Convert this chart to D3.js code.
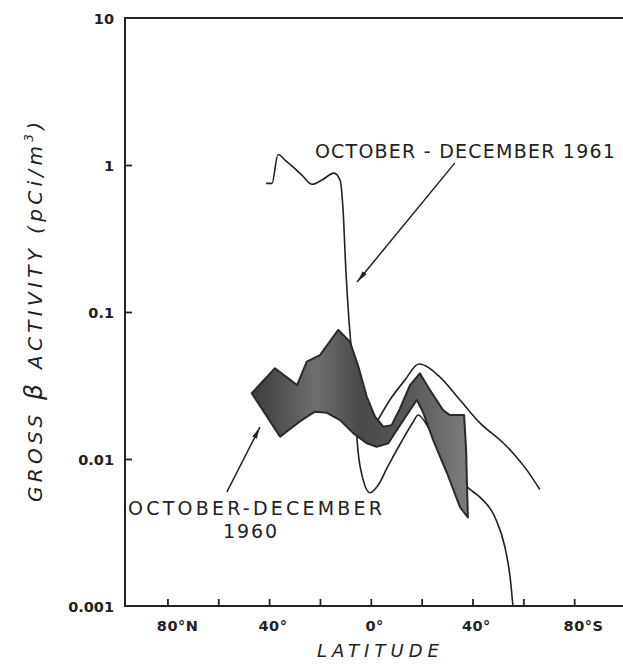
<!DOCTYPE html>
<html>
<head>
<meta charset="utf-8">
<script src="https://cdn.jsdelivr.net/npm/d3@7/dist/d3.min.js"></script>
<style>
  body { margin: 0; background: #ffffff; }
  svg { display: block; }
  text { fill: #222; }
</style>
</head>
<body>
<svg id="chart" width="623" height="665"></svg>
<script>
// ---------------- DATA ----------------
// October-December 1961 curve (latitude: negative = north, positive = south)
const line1961Lat = [-41.2, -38.9, -36.5, -33.5, -30.6, -27.0, -23.1, -19.2, -14.5, -12.1, -10.9, -9.8, -8.6, -7.4, -6.2, -5.4, -3.5, -0.3, 2.8, 6.4, 11.5, 16.6, 18.6, 23.3, 31.1, 38.2, 42.9, 48.9, 52.8, 54.8, 55.9];
const line1961Val = [0.75, 0.75, 1.18, 1.07, 0.97, 0.85, 0.74, 0.79, 0.88, 0.79, 0.49, 0.19, 0.088, 0.049, 0.025, 0.0135, 0.0078, 0.0059, 0.0066, 0.0087, 0.0126, 0.0178, 0.0199, 0.0157, 0.0098, 0.0064, 0.0055, 0.0040, 0.0025, 0.00157, 0.001];

// Upper thin curve (continuation to the south)
const upperLat = [2.4, 7.5, 13.4, 18.9, 27.2, 35.1, 42.9, 52.0, 55.9, 61.4, 66.5];
const upperVal = [0.0179, 0.0252, 0.0344, 0.0443, 0.0361, 0.0252, 0.0176, 0.0129, 0.0110, 0.0084, 0.0062];

// October-December 1960 shaded band: upper edge (left to right, ending at the southern tip)
const band1960UpperLat = [-46.85, -37.7, -29.0, -25.2, -20.0, -12.8, -8.2, -4.9, -1.6, 1.65, 4.9, 8.2, 11.5, 15.4, 19.3, 23.3, 28.4, 31.1, 36.7, 37.5, 37.8, 38.2];
const band1960UpperVal = [0.0280, 0.0414, 0.0318, 0.0459, 0.0509, 0.0755, 0.0628, 0.0425, 0.0266, 0.0194, 0.0166, 0.0170, 0.0221, 0.0318, 0.0383, 0.0294, 0.0215, 0.0199, 0.0199, 0.0115, 0.0070, 0.0040];
// lower edge (left to right)
const band1960LowerLat = [-35.7, -27.9, -22.0, -17.3, -12.1, -6.9, -1.6, 2.3, 6.9, 11.5, 15.4, 18.1, 20.5, 24.5, 30.0, 35.1];
const band1960LowerVal = [0.0142, 0.0180, 0.0210, 0.0206, 0.0184, 0.0150, 0.0128, 0.0121, 0.0128, 0.0170, 0.0215, 0.0252, 0.0209, 0.0135, 0.0080, 0.0047];

// Axes
const yTickValues = [10, 1, 0.1, 0.01, 0.001];
const yTickLabels = ["10", "1", "0.1", "0.01", "0.001"];
const xTickValues = [-80, -60, -40, -20, 0, 20, 40, 60, 80];
const xLabelValues = [-80, -40, 0, 40, 80];
const xLabelNumbers = ["80", "40", "0", "40", "80"];
const xLabelSuffix = ["°N", "°", "°", "°", "°S"];

const label1961 = "OCTOBER - DECEMBER 1961";
const label1960a = "OCTOBER-DECEMBER";
const label1960b = "1960";
const xTitle = "LATITUDE";

// ---------------- CHART ----------------
const svg = d3.select("#chart");
const plotLeft = 125, plotRight = 625, plotTop = 18, plotBottom = 606;

const x = d3.scaleLinear().domain([-96.7, 100]).range([plotLeft, plotRight]);
const y = d3.scaleLog().domain([0.001, 10]).range([plotBottom, plotTop]);

const ink = "#222";
const fontMain = "'DejaVu Sans', 'Liberation Sans', sans-serif";

// Lines (drawn under the band)
const lineGen = d3.line().x(d => x(d[0])).y(d => y(d[1])).curve(d3.curveMonotoneX);

svg.append("path")
  .datum(line1961Lat.map((v, i) => [v, line1961Val[i]]))
  .attr("d", lineGen)
  .attr("fill", "none").attr("stroke", ink).attr("stroke-width", 1.6);

svg.append("path")
  .datum(upperLat.map((v, i) => [v, upperVal[i]]))
  .attr("d", lineGen)
  .attr("fill", "none").attr("stroke", ink).attr("stroke-width", 1.6);

// Band polygon
const bandPts = band1960UpperLat.map((v, i) => [v, band1960UpperVal[i]])
  .concat(band1960LowerLat.map((v, i) => [v, band1960LowerVal[i]]).reverse());
const defs = svg.append("defs");
const grad = defs.append("linearGradient").attr("id", "bandGrad")
  .attr("x1", "0").attr("y1", "0").attr("x2", "1").attr("y2", "0");
grad.append("stop").attr("offset", "0%").attr("stop-color", "#3c3c3c");
grad.append("stop").attr("offset", "30%").attr("stop-color", "#6e6e6e");
grad.append("stop").attr("offset", "50%").attr("stop-color", "#4a4a4a");
grad.append("stop").attr("offset", "75%").attr("stop-color", "#5a5a5a");
grad.append("stop").attr("offset", "100%").attr("stop-color", "#7e7e7e");

svg.append("path")
  .datum(bandPts)
  .attr("d", d3.line().x(d => x(d[0])).y(d => y(d[1])).curve(d3.curveLinearClosed))
  .attr("fill", "url(#bandGrad)")
  .attr("stroke", "#2a2a2a").attr("stroke-width", 2).attr("stroke-linejoin", "round");

// Frame
svg.append("rect")
  .attr("x", plotLeft).attr("y", plotTop)
  .attr("width", plotRight - plotLeft).attr("height", plotBottom - plotTop)
  .attr("fill", "none").attr("stroke", ink).attr("stroke-width", 2);

// X axis ticks (inward)
const gx = svg.append("g").attr("transform", `translate(0,${plotBottom})`)
  .call(d3.axisBottom(x).tickValues(xTickValues).tickSizeInner(-7).tickSizeOuter(0).tickFormat(""));
gx.select(".domain").remove();
gx.selectAll(".tick line").attr("stroke", ink).attr("stroke-width", 1.8);

// Y axis ticks (inward)
const gy = svg.append("g").attr("transform", `translate(${plotLeft},0)`)
  .call(d3.axisLeft(y).tickValues(yTickValues.slice(1, 4)).tickSizeInner(-7).tickSizeOuter(0).tickFormat(""));
gy.select(".domain").remove();
gy.selectAll(".tick line").attr("stroke", ink).attr("stroke-width", 1.8);

// Y tick labels
svg.append("g").selectAll("text")
  .data(yTickValues)
  .join("text")
  .attr("x", plotLeft - 11)
  .attr("y", d => y(d) + 5.5)
  .attr("text-anchor", "end")
  .attr("font-family", fontMain)
  .attr("font-weight", "bold")
  .attr("font-size", 14.5)
  .text((d, i) => yTickLabels[i]);

// X tick labels: numeric part centred on tick
const xl = svg.append("g");
xLabelValues.forEach((v, i) => {
  const t = xl.append("text")
    .attr("y", plotBottom + 25)
    .attr("font-family", fontMain)
    .attr("font-weight", "bold")
    .attr("font-size", 14.5)
    .attr("letter-spacing", 0.5);
  const num = t.append("tspan").text(xLabelNumbers[i]);
  t.append("tspan").text(xLabelSuffix[i]);
  const w = num.node().getComputedTextLength();
  t.attr("x", x(v) - w / 2);
});

// X title
svg.append("text")
  .attr("x", x(2.8)).attr("y", plotBottom + 51)
  .attr("text-anchor", "middle")
  .attr("font-family", fontMain)
  .attr("font-style", "italic")
  .attr("font-size", 18)
  .attr("textLength", 122).attr("lengthAdjust", "spacing")
  .text(xTitle);

// Y title
const yt = svg.append("text")
  .attr("transform", `translate(42,${y(0.1)}) rotate(-90)`)
  .attr("text-anchor", "middle")
  .attr("font-family", fontMain)
  .attr("font-style", "italic")
  .attr("font-size", 20)
  .attr("textLength", 380).attr("lengthAdjust", "spacing");
yt.append("tspan").text("GROSS ");
yt.append("tspan").attr("font-size", 25).text("β");
yt.append("tspan").text(" ACTIVITY (pCi/m");
yt.append("tspan").attr("font-size", 12).attr("dy", -9).text("3");
yt.append("tspan").attr("dy", 9).text(")");

// Arrow marker
defs.append("marker").attr("id", "arrow")
  .attr("viewBox", "0 0 12 6").attr("refX", 12).attr("refY", 3)
  .attr("markerWidth", 12).attr("markerHeight", 6)
  .attr("markerUnits", "userSpaceOnUse")
  .attr("orient", "auto")
  .append("path").attr("d", "M0,0.5 L12,3 L0,5.5 Z").attr("fill", ink);

// Annotation 1961
svg.append("text")
  .attr("x", x(-22.0)).attr("y", y(1.116))
  .attr("font-family", fontMain)
  .attr("font-size", 19)
  .attr("textLength", 300).attr("lengthAdjust", "spacing")
  .text(label1961);
svg.append("line")
  .attr("x1", x(33.0)).attr("y1", y(1.03))
  .attr("x2", x(-5.4)).attr("y2", y(0.16))
  .attr("stroke", ink).attr("stroke-width", 1.5)
  .attr("marker-end", "url(#arrow)");

// Annotation 1960
svg.append("text")
  .attr("x", x(-95.5)).attr("y", y(0.00416))
  .attr("font-family", fontMain)
  .attr("font-size", 19)
  .attr("textLength", 254).attr("lengthAdjust", "spacing")
  .text(label1960a);
svg.append("text")
  .attr("x", x(-47.5)).attr("y", y(0.0029))
  .attr("text-anchor", "middle")
  .attr("font-family", fontMain)
  .attr("font-size", 19)
  .attr("textLength", 54).attr("lengthAdjust", "spacing")
  .text(label1960b);
svg.append("line")
  .attr("x1", x(-56.6)).attr("y1", y(0.00597))
  .attr("x2", x(-43.6)).attr("y2", y(0.0165))
  .attr("stroke", ink).attr("stroke-width", 1.5)
  .attr("marker-end", "url(#arrow)");
</script>
</body>
</html>
